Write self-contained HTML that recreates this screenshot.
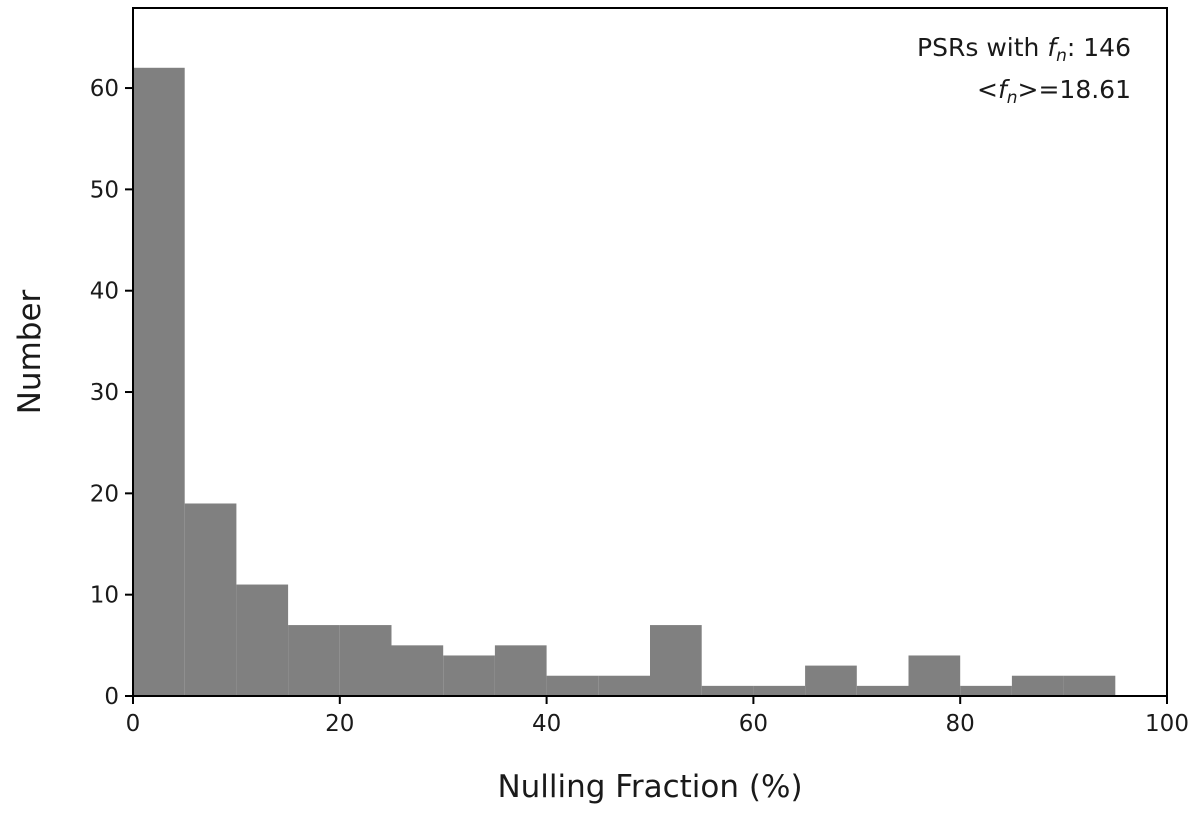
<!DOCTYPE html>
<html><head><meta charset="utf-8"><style>
body{margin:0;background:#fff}
svg text{font-family:"DejaVu Sans","Liberation Sans",sans-serif;fill:#1a1a1a}
</style></head><body>
<svg id="chart" width="1200" height="814">
<g id="bars"></g>
<g id="axes"></g>
<text x="1131" y="56" font-size="25" text-anchor="end">PSRs with <tspan font-style="italic">f</tspan><tspan font-style="italic" font-size="17" dy="5">n</tspan><tspan dy="-5">: 146</tspan></text>
<text x="1131" y="98" font-size="25" text-anchor="end">&lt;<tspan font-style="italic">f</tspan><tspan font-style="italic" font-size="17" dy="5">n</tspan><tspan dy="-5">&gt;=18.61</tspan></text>
<text x="650" y="797" font-size="31" text-anchor="middle">Nulling Fraction (%)</text>
<text transform="translate(40,352) rotate(-90)" font-size="31" text-anchor="middle">Number</text>
</svg>
<script>
const binEdges=[0,5,10,15,20,25,30,35,40,45,50,55,60,65,70,75,80,85,90,95];
const counts=[62,19,11,7,7,5,4,5,2,2,7,1,1,3,1,4,1,2,2];
const xTicks=[0,20,40,60,80,100];
const yTicks=[0,10,20,30,40,50,60];
const binWidth=5;
const L=133,R=1167,T=8,B=696,XMAX=100,YMAX=67.9;
const sx=v=>L+(v/XMAX)*(R-L);
const sy=v=>B-(v/YMAX)*(B-T);
const ns="http://www.w3.org/2000/svg";
const bars=document.getElementById('bars'),axes=document.getElementById('axes');
function mk(tag,attrs,parent){const e=document.createElementNS(ns,tag);for(const k in attrs)e.setAttribute(k,attrs[k]);parent.appendChild(e);return e;}
counts.forEach((c,i)=>{
  const r=mk('rect',{x:sx(binEdges[i]),y:sy(c),width:sx(binEdges[i]+binWidth)-sx(binEdges[i]),height:B-sy(c),fill:'#808080'},bars);
  
  
});
const frame=mk('rect',{x:L,y:T,width:R-L,height:B-T,fill:'none',stroke:'#000','stroke-width':2},axes);


xTicks.forEach(t=>{
  mk('line',{x1:sx(t),x2:sx(t),y1:B,y2:B+8,stroke:'#000','stroke-width':2},axes);
  const tx=mk('text',{x:sx(t),y:B+35,'font-size':23,'text-anchor':'middle'},axes);
  tx.textContent=t;
  
  
});
yTicks.forEach(t=>{
  mk('line',{x1:L-8,x2:L,y1:sy(t),y2:sy(t),stroke:'#000','stroke-width':2},axes);
  const tx=mk('text',{x:L-14,y:sy(t)+8,'font-size':23,'text-anchor':'end'},axes);
  tx.textContent=t;
  
  
});
</script>
</body></html>
